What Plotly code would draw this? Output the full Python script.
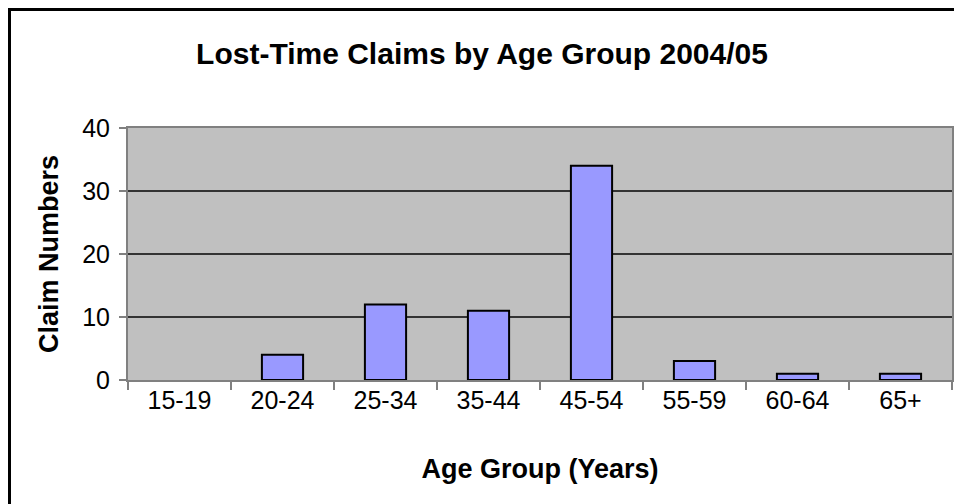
import plotly.graph_objects as go

categories = ["15-19", "20-24", "25-34", "35-44", "45-54", "55-59", "60-64", "65+"]
claims = [0, 4, 12, 11, 34, 3, 1, 1]
y_ticks = [0, 10, 20, 30, 40]

# page body has an 8px default margin; work in figure coordinates
OFF = 8
W, H = 962, 504
L, R, T, B = 128 - OFF, 952 - OFF, 128 - OFF, 380 - OFF

def px_x(p):
    return (p - L) / (R - L)

def px_y(p):
    return (B - p) / (B - T)

fig = go.Figure(go.Bar(
    x=categories, y=claims,
    marker=dict(color="#9999FF",
                line=dict(color="black", width=[0 if v == 0 else 2 for v in claims])),
    width=0.4,
))

font = "Liberation Sans, Arial, sans-serif"
fig.update_layout(
    width=W, height=H,
    margin=dict(l=L, r=W - R, t=T, b=H - B),
    paper_bgcolor="white",
    plot_bgcolor="#C0C0C0",
    showlegend=False,
    font=dict(family=font, color="black", size=25),
    title=dict(text="<b>Lost-Time Claims by Age Group 2004/05</b>",
               x=(482 - OFF) / W, xref="container", xanchor="center",
               y=1 - (53 - OFF) / H, yref="container", yanchor="middle",
               font=dict(size=30)),
    xaxis=dict(
        type="category", showgrid=False, tickson="boundaries",
        ticks="outside", ticklen=8, tickcolor="#808080", tickwidth=2,
        showline=True, linecolor="#808080", linewidth=2, mirror=True,
        tickfont=dict(size=25), ticklabelstandoff=-3,
        title=dict(text="<b>Age Group (Years)</b>", font=dict(size=27), standoff=46),
    ),
    yaxis=dict(
        range=[0, 40], tickvals=y_ticks, showgrid=True, gridcolor="#333333", gridwidth=1.5,
        ticks="outside", ticklen=7, tickcolor="#808080", tickwidth=2,
        showline=True, linecolor="#808080", linewidth=2, mirror=True,
        zeroline=False, tickfont=dict(size=25), ticklabelstandoff=4,
        title=dict(text="<b>Claim Numbers</b>", font=dict(size=27), standoff=16),
    ),
    shapes=[dict(type="rect", xref="paper", yref="paper",
                 x0=px_x(1.5), x1=px_x(990), y0=px_y(530), y1=px_y(1.5),
                 line=dict(color="black", width=3), fillcolor="rgba(0,0,0,0)", layer="above")],
)

fig.write_html("out.html")
